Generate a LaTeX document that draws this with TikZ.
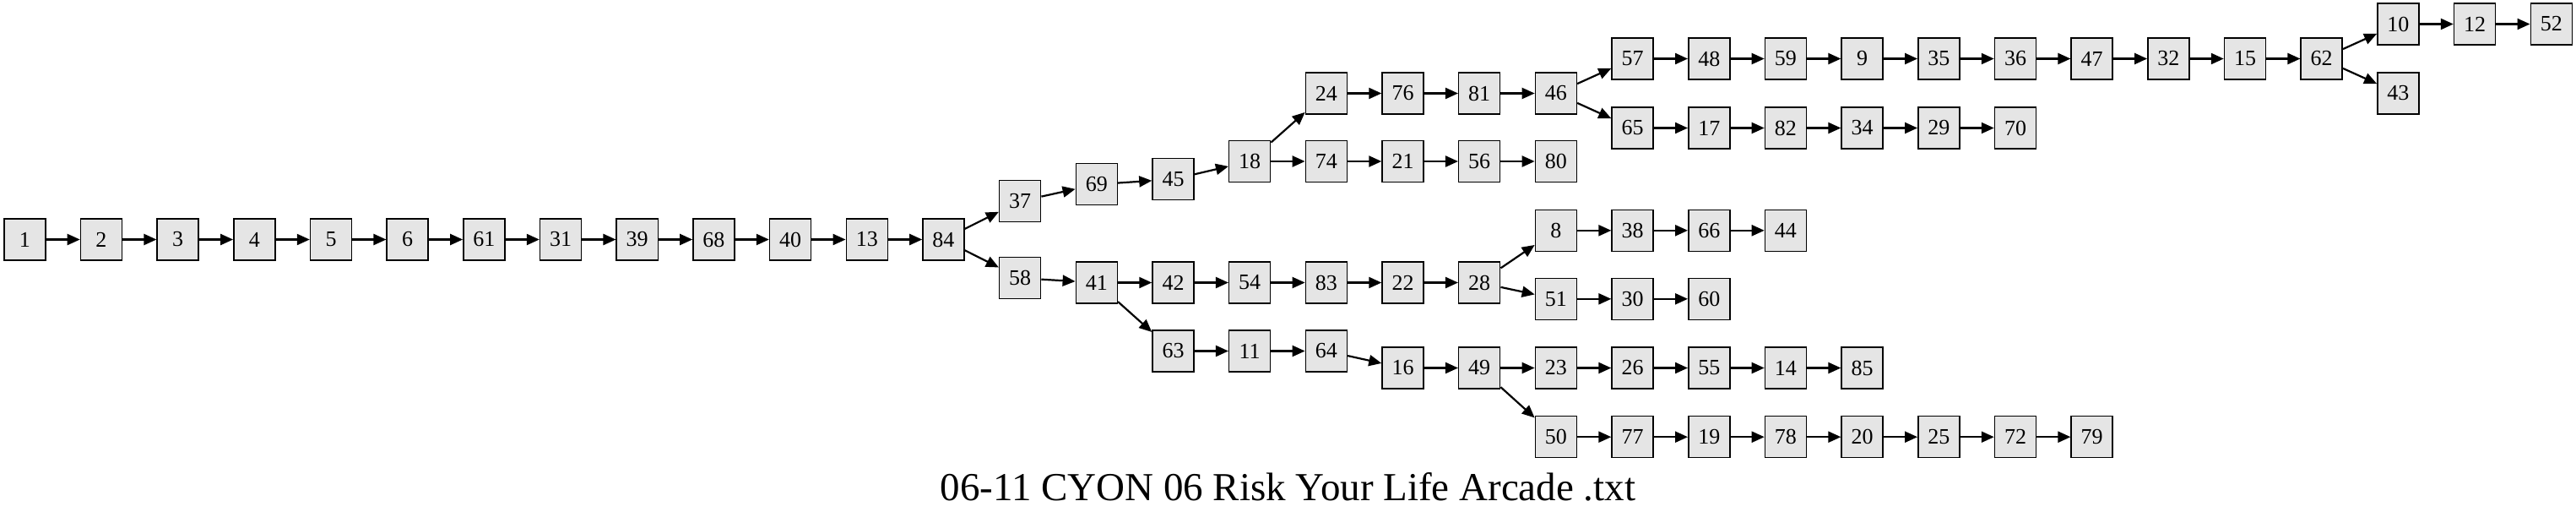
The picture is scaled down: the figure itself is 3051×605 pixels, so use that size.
\documentclass[tikz,border=0pt]{standalone}
\usepackage{fontspec}
\setmainfont{Liberation Serif}
\usetikzlibrary{arrows.meta}
\definecolor{boxfill}{RGB}{229,229,229}
\tikzset{
  box/.style={draw, fill=boxfill, line width=0.75pt, minimum width=24.5pt, minimum height=24.5pt, inner sep=0pt, font=\fontsize{13}{13}\selectfont},
  link/.style={line width=1.1pt, -{Triangle[length=7.5pt,width=6.5pt]}},
  titlefont/.style={font=\fontsize{23.5}{23.5}\selectfont}
}
\begin{document}
\begin{tikzpicture}[x=0.5pt,y=-0.5pt]
\useasboundingbox (0,0) rectangle (3051,605);
\foreach \n/\r/\y in {
 1/0/283.5, 2/1/283.5, 3/2/283.5, 4/3/283.5, 5/4/283.5, 6/5/283.5, 61/6/283.5, 31/7/283.5, 39/8/283.5, 68/9/283.5, 40/10/283.5, 13/11/283.5, 84/12/283.5,
 37/13/238.2, 58/13/329.2,
 69/14/218.2, 41/14/334.5,
 45/15/212.2, 42/15/334.5, 63/15/415.5,
 18/16/191, 54/16/334.5, 11/16/415.5,
 24/17/110.5, 74/17/191, 83/17/334.5, 64/17/415.5,
 76/18/110.5, 21/18/191, 22/18/334.5, 16/18/435.5,
 81/19/110.5, 56/19/191, 28/19/334.5, 49/19/435.5,
 46/20/110.5, 80/20/191, 8/20/272.8, 51/20/353.8, 23/20/435.5, 50/20/517.2,
 57/21/69.5, 65/21/151.5, 38/21/272.8, 30/21/353.8, 26/21/435.5, 77/21/517.2,
 48/22/69.5, 17/22/151.5, 66/22/272.8, 60/22/353.8, 55/22/435.5, 19/22/517.2,
 59/23/69.5, 82/23/151.5, 44/23/272.8, 14/23/435.5, 78/23/517.2,
 9/24/69.5, 34/24/151.5, 85/24/435.5, 20/24/517.2,
 35/25/69.5, 29/25/151.5, 25/25/517.2,
 36/26/69.5, 70/26/151.5, 72/26/517.2,
 47/27/69.5, 79/27/517.2,
 32/28/69.5, 15/29/69.5, 62/30/69.5,
 10/31/28.5, 43/31/110.5, 12/32/28.5, 52/33/28.5}
 \node[box] (n\n) at ({29.3+90.68*\r},\y) {\n};
\foreach \a/\b in {
 1/2, 2/3, 3/4, 4/5, 5/6, 6/61, 61/31, 31/39, 39/68, 68/40, 40/13, 13/84,
 84/37, 84/58, 37/69, 69/45, 45/18, 18/24, 18/74,
 24/76, 76/81, 81/46, 46/57, 46/65,
 57/48, 48/59, 59/9, 9/35, 35/36, 36/47, 47/32, 32/15, 15/62,
 62/10, 62/43, 10/12, 12/52,
 65/17, 17/82, 82/34, 34/29, 29/70,
 74/21, 21/56, 56/80,
 58/41, 41/42, 41/63, 42/54, 54/83, 83/22, 22/28,
 28/8, 28/51, 8/38, 38/66, 66/44, 51/30, 30/60,
 63/11, 11/64, 64/16, 16/49, 49/23, 49/50,
 23/26, 26/55, 55/14, 14/85,
 50/77, 77/19, 19/78, 78/20, 20/25, 25/72, 72/79}
 \draw[link] (n\a) -- (n\b);
\node[titlefont, anchor=base] (title) at (1525.5,592) {06-11 CYON 06 Risk Your Life Arcade .txt};
\end{tikzpicture}
\end{document}
